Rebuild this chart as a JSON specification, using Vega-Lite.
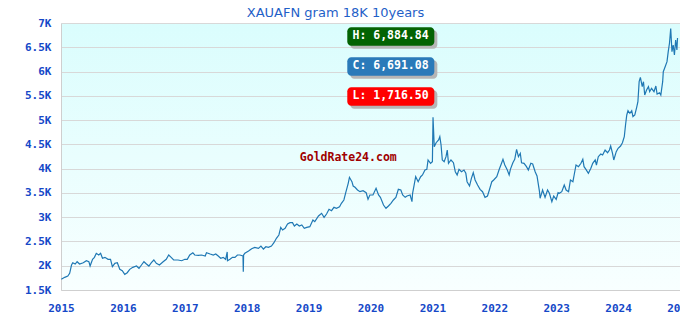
{
  "$schema": "https://vega.github.io/schema/vega-lite/v6.json",
  "width": 619,
  "height": 267,
  "autosize": {"type": "none"},
  "padding": {"left": 61, "top": 23, "right": 0, "bottom": 30},
  "title": {"text": "XAUAFN gram 18K 10years", "anchor": "middle", "frame": "group", "dx": -35, "offset": -3, "fontSize": 13, "font": "DejaVu Sans", "fontWeight": "normal", "color": "#1f5fc8"},
  "config": {
    "view": {"stroke": null, "fill": {"gradient": "linear", "x1": 0, "y1": 0, "x2": 0, "y2": 1, "stops": [{"offset": 0, "color": "#dafdfd"}, {"offset": 1, "color": "#f8ffff"}]}},
    "axisY": {"grid": true, "gridColor": "#d8d8d8", "ticks": false, "labelPadding": 10, "labelOverlap": false, "domainColor": "#cfcfcf", "labelFont": "DejaVu Sans Mono", "labelFontWeight": "bold", "labelFontSize": 11, "labelColor": "#1548c8", "title": null},
    "axisX": {"grid": false, "ticks": false, "labelPadding": 12, "labelOverlap": false, "labelFlush": false, "domainColor": "#cfcfcf", "labelFont": "DejaVu Sans Mono", "labelFontWeight": "bold", "labelFontSize": 11, "labelColor": "#1548c8", "title": null}
  },
  "datasets": {
    "s": [
      {"t": 2015.005, "v": 1720}, {"t": 2015.06, "v": 1761}, {"t": 2015.11, "v": 1788}, {"t": 2015.14, "v": 1844}, {"t": 2015.17, "v": 2015}, {"t": 2015.19, "v": 2062}, {"t": 2015.23, "v": 2035}, {"t": 2015.26, "v": 2083}, {"t": 2015.30, "v": 2035}, {"t": 2015.36, "v": 2062}, {"t": 2015.41, "v": 2103}, {"t": 2015.45, "v": 2083}, {"t": 2015.47, "v": 1994}, {"t": 2015.51, "v": 2132}, {"t": 2015.54, "v": 2173}, {"t": 2015.57, "v": 2256}, {"t": 2015.61, "v": 2221}, {"t": 2015.64, "v": 2256}, {"t": 2015.67, "v": 2153}, {"t": 2015.71, "v": 2173}, {"t": 2015.76, "v": 2132}, {"t": 2015.80, "v": 2132}, {"t": 2015.83, "v": 1980}, {"t": 2015.87, "v": 2050}, {"t": 2015.91, "v": 2062}, {"t": 2015.95, "v": 1926}, {"t": 2015.99, "v": 1897}, {"t": 2016.03, "v": 1823}, {"t": 2016.07, "v": 1856}, {"t": 2016.11, "v": 1926}, {"t": 2016.16, "v": 1967}, {"t": 2016.22, "v": 1994}, {"t": 2016.26, "v": 1947}, {"t": 2016.30, "v": 2015}, {"t": 2016.34, "v": 2083}, {"t": 2016.38, "v": 2035}, {"t": 2016.42, "v": 1994}, {"t": 2016.46, "v": 2062}, {"t": 2016.50, "v": 2118}, {"t": 2016.54, "v": 2050}, {"t": 2016.59, "v": 2015}, {"t": 2016.65, "v": 2083}, {"t": 2016.70, "v": 2132}, {"t": 2016.74, "v": 2221}, {"t": 2016.78, "v": 2173}, {"t": 2016.82, "v": 2118}, {"t": 2016.89, "v": 2118}, {"t": 2016.95, "v": 2103}, {"t": 2017.00, "v": 2132}, {"t": 2017.04, "v": 2132},
      {"t": 2017.08, "v": 2221}, {"t": 2017.13, "v": 2268}, {"t": 2017.16, "v": 2221}, {"t": 2017.22, "v": 2215}, {"t": 2017.27, "v": 2221}, {"t": 2017.33, "v": 2200}, {"t": 2017.35, "v": 2268}, {"t": 2017.41, "v": 2241}, {"t": 2017.46, "v": 2221}, {"t": 2017.50, "v": 2241}, {"t": 2017.54, "v": 2200}, {"t": 2017.58, "v": 2153}, {"t": 2017.62, "v": 2173}, {"t": 2017.66, "v": 2132}, {"t": 2017.685, "v": 2283}, {"t": 2017.69, "v": 2103}, {"t": 2017.73, "v": 2132}, {"t": 2017.77, "v": 2173}, {"t": 2017.81, "v": 2173}, {"t": 2017.85, "v": 2221}, {"t": 2017.89, "v": 2221}, {"t": 2017.94, "v": 2200}, {"t": 2017.945, "v": 1877}, {"t": 2017.95, "v": 2221}, {"t": 2017.97, "v": 2256}, {"t": 2018.03, "v": 2303}, {"t": 2018.08, "v": 2351}, {"t": 2018.13, "v": 2379}, {"t": 2018.19, "v": 2358}, {"t": 2018.23, "v": 2406}, {"t": 2018.27, "v": 2344}, {"t": 2018.31, "v": 2392}, {"t": 2018.35, "v": 2379}, {"t": 2018.40, "v": 2406}, {"t": 2018.44, "v": 2474}, {"t": 2018.48, "v": 2565}, {"t": 2018.52, "v": 2633}, {"t": 2018.55, "v": 2791}, {"t": 2018.58, "v": 2736}, {"t": 2018.62, "v": 2771}, {"t": 2018.66, "v": 2859}, {"t": 2018.70, "v": 2886}, {"t": 2018.74, "v": 2886}, {"t": 2018.77, "v": 2818}, {"t": 2018.81, "v": 2859}, {"t": 2018.85, "v": 2818}, {"t": 2018.89, "v": 2839}, {"t": 2018.93, "v": 2771}, {"t": 2018.97, "v": 2791}, {"t": 2019.02, "v": 2804}, {"t": 2019.07, "v": 2942}, {"t": 2019.10, "v": 2907},
      {"t": 2019.16, "v": 3024}, {"t": 2019.21, "v": 3080}, {"t": 2019.25, "v": 2997}, {"t": 2019.29, "v": 3065}, {"t": 2019.33, "v": 3162}, {"t": 2019.37, "v": 3133}, {"t": 2019.41, "v": 3203}, {"t": 2019.45, "v": 3183}, {"t": 2019.50, "v": 3216}, {"t": 2019.53, "v": 3286}, {"t": 2019.57, "v": 3354}, {"t": 2019.60, "v": 3504}, {"t": 2019.64, "v": 3698}, {"t": 2019.66, "v": 3821}, {"t": 2019.70, "v": 3731}, {"t": 2019.72, "v": 3642}, {"t": 2019.75, "v": 3615}, {"t": 2019.79, "v": 3560}, {"t": 2019.83, "v": 3525}, {"t": 2019.88, "v": 3545}, {"t": 2019.93, "v": 3504}, {"t": 2019.96, "v": 3368}, {"t": 2019.99, "v": 3457}, {"t": 2020.04, "v": 3457}, {"t": 2020.09, "v": 3595}, {"t": 2020.13, "v": 3457}, {"t": 2020.16, "v": 3409}, {"t": 2020.21, "v": 3251}, {"t": 2020.25, "v": 3183}, {"t": 2020.29, "v": 3230}, {"t": 2020.33, "v": 3286}, {"t": 2020.37, "v": 3354}, {"t": 2020.41, "v": 3409}, {"t": 2020.45, "v": 3574}, {"t": 2020.49, "v": 3560}, {"t": 2020.52, "v": 3457}, {"t": 2020.56, "v": 3409}, {"t": 2020.59, "v": 3436}, {"t": 2020.64, "v": 3457}, {"t": 2020.67, "v": 3319}, {"t": 2020.68, "v": 3492}, {"t": 2020.71, "v": 3698}, {"t": 2020.73, "v": 3834}, {"t": 2020.77, "v": 3731}, {"t": 2020.81, "v": 3834}, {"t": 2020.84, "v": 3869}, {"t": 2020.88, "v": 3972}, {"t": 2020.91, "v": 3986}, {"t": 2020.93, "v": 4178}, {"t": 2020.97, "v": 4110}, {"t": 2021.00, "v": 4143}, {"t": 2021.01, "v": 5057}, {"t": 2021.03, "v": 4452}, {"t": 2021.06, "v": 4534}, {"t": 2021.10, "v": 4590}, {"t": 2021.12, "v": 4658}, {"t": 2021.14, "v": 4487}, {"t": 2021.16, "v": 4178}, {"t": 2021.19, "v": 4143}, {"t": 2021.22, "v": 4246}, {"t": 2021.24, "v": 4384}, {"t": 2021.26, "v": 4110}, {"t": 2021.30, "v": 4178}, {"t": 2021.34, "v": 4122}, {"t": 2021.37, "v": 3937}, {"t": 2021.40, "v": 3869}, {"t": 2021.43, "v": 3986}, {"t": 2021.47, "v": 3937}, {"t": 2021.51, "v": 3972}, {"t": 2021.54, "v": 3904}, {"t": 2021.56, "v": 3731}, {"t": 2021.60, "v": 3642}, {"t": 2021.63, "v": 3801}, {"t": 2021.66, "v": 3916}, {"t": 2021.69, "v": 3766}, {"t": 2021.73, "v": 3663}, {"t": 2021.77, "v": 3574}, {"t": 2021.81, "v": 3525}, {"t": 2021.85, "v": 3409}, {"t": 2021.89, "v": 3436}, {"t": 2021.92, "v": 3560}, {"t": 2021.96, "v": 3731}, {"t": 2021.99, "v": 3766},
      {"t": 2022.04, "v": 3834}, {"t": 2022.08, "v": 3986}, {"t": 2022.12, "v": 4122}, {"t": 2022.14, "v": 4192}, {"t": 2022.17, "v": 4075}, {"t": 2022.21, "v": 3972}, {"t": 2022.24, "v": 3869}, {"t": 2022.26, "v": 3986}, {"t": 2022.30, "v": 4122}, {"t": 2022.33, "v": 4192}, {"t": 2022.36, "v": 4398}, {"t": 2022.39, "v": 4246}, {"t": 2022.42, "v": 4316}, {"t": 2022.44, "v": 4122}, {"t": 2022.48, "v": 4110}, {"t": 2022.52, "v": 4040}, {"t": 2022.55, "v": 3972}, {"t": 2022.59, "v": 4110}, {"t": 2022.62, "v": 4095}, {"t": 2022.66, "v": 3937}, {"t": 2022.69, "v": 3848}, {"t": 2022.73, "v": 3525}, {"t": 2022.74, "v": 3389}, {"t": 2022.78, "v": 3560}, {"t": 2022.82, "v": 3409}, {"t": 2022.86, "v": 3560}, {"t": 2022.89, "v": 3492}, {"t": 2022.93, "v": 3319}, {"t": 2022.96, "v": 3436}, {"t": 2023.00, "v": 3368}, {"t": 2023.03, "v": 3504}, {"t": 2023.05, "v": 3492}, {"t": 2023.09, "v": 3525}, {"t": 2023.13, "v": 3663}, {"t": 2023.16, "v": 3560}, {"t": 2023.20, "v": 3525}, {"t": 2023.23, "v": 3766}, {"t": 2023.27, "v": 3731}, {"t": 2023.29, "v": 3869}, {"t": 2023.32, "v": 4075}, {"t": 2023.36, "v": 4040}, {"t": 2023.40, "v": 4110}, {"t": 2023.43, "v": 4192}, {"t": 2023.45, "v": 4040}, {"t": 2023.48, "v": 3986}, {"t": 2023.52, "v": 3904}, {"t": 2023.56, "v": 4007}, {"t": 2023.59, "v": 4110}, {"t": 2023.63, "v": 4178}, {"t": 2023.65, "v": 4075}, {"t": 2023.68, "v": 4246}, {"t": 2023.72, "v": 4301}, {"t": 2023.75, "v": 4281}, {"t": 2023.79, "v": 4384}, {"t": 2023.83, "v": 4328}, {"t": 2023.86, "v": 4384}, {"t": 2023.88, "v": 4466}, {"t": 2023.91, "v": 4316}, {"t": 2023.93, "v": 4178}, {"t": 2023.97, "v": 4349}, {"t": 2024.00, "v": 4419}, {"t": 2024.04, "v": 4466}, {"t": 2024.07, "v": 4534}, {"t": 2024.10, "v": 4658}, {"t": 2024.12, "v": 4899}, {"t": 2024.14, "v": 5105}, {"t": 2024.16, "v": 5193}, {"t": 2024.19, "v": 5140}, {"t": 2024.22, "v": 5193}, {"t": 2024.24, "v": 5070}, {"t": 2024.27, "v": 5105}, {"t": 2024.30, "v": 5263}, {"t": 2024.32, "v": 5379}, {"t": 2024.34, "v": 5791}, {"t": 2024.36, "v": 5881}, {"t": 2024.39, "v": 5688}, {"t": 2024.41, "v": 5791}, {"t": 2024.43, "v": 5517}, {"t": 2024.46, "v": 5620}, {"t": 2024.49, "v": 5688}, {"t": 2024.51, "v": 5585}, {"t": 2024.54, "v": 5655}, {"t": 2024.58, "v": 5585}, {"t": 2024.61, "v": 5702}, {"t": 2024.63, "v": 5537}, {"t": 2024.67, "v": 5564}, {"t": 2024.69, "v": 5517}, {"t": 2024.72, "v": 5791}, {"t": 2024.73, "v": 5997}, {"t": 2024.76, "v": 6100}, {"t": 2024.79, "v": 6203}, {"t": 2024.81, "v": 6409}, {"t": 2024.83, "v": 6582}, {"t": 2024.85, "v": 6885}, {"t": 2024.87, "v": 6409}, {"t": 2024.89, "v": 6547}, {"t": 2024.91, "v": 6341}, {"t": 2024.93, "v": 6650}, {"t": 2024.95, "v": 6444}, {"t": 2024.96, "v": 6691}
    ]
  },
  "layer": [
    {
      "data": {"name": "s"},
      "mark": {"type": "line", "color": "#1f78b4", "strokeWidth": 1.2, "clip": true},
      "encoding": {
        "x": {"field": "t", "type": "quantitative", "scale": {"domain": [2015, 2025], "nice": false, "zero": false}, "axis": {"values": [2015, 2016, 2017, 2018, 2019, 2020, 2021, 2022, 2023, 2024, 2025], "tickCount": 20, "format": "d", "title": null}},
        "y": {"field": "v", "type": "quantitative", "scale": {"domain": [1500, 7000], "nice": false, "zero": false}, "axis": {"values": [1500, 2000, 2500, 3000, 3500, 4000, 4500, 5000, 5500, 6000, 6500, 7000], "tickCount": 20, "labelExpr": "datum.value / 1000 + 'K'", "title": null}}
      }
    },
    {
      "data": {"values": [{"w": "GoldRate24.com"}]},
      "mark": {"type": "text", "font": "DejaVu Sans Mono", "fontWeight": "bold", "fontSize": 11.5, "color": "#a00000", "align": "center", "baseline": "middle"},
      "encoding": {"x": {"datum": 2019.641, "type": "quantitative"}, "y": {"datum": 4219, "type": "quantitative"}, "text": {"field": "w"}}
    },
    {
      "data": {"values": [{"k": "H"}]},
      "mark": {"type": "rect", "color": "#b5b5b5", "cornerRadius": 4, "xOffset": 3, "x2Offset": 3, "yOffset": 3, "y2Offset": 3},
      "encoding": {"x": {"datum": 2019.625, "type": "quantitative"}, "x2": {"datum": 2021.031}, "y": {"datum": 6911, "type": "quantitative"}, "y2": {"datum": 6532}}
    },
    {
      "data": {"values": [{"k": "H"}]},
      "mark": {"type": "rect", "color": "#036303", "cornerRadius": 4},
      "encoding": {"x": {"datum": 2019.625, "type": "quantitative"}, "x2": {"datum": 2021.031}, "y": {"datum": 6911, "type": "quantitative"}, "y2": {"datum": 6532}}
    },
    {
      "data": {"values": [{"k": "H", "label": "H: 6,884.84"}]},
      "mark": {"type": "text", "font": "DejaVu Sans Mono", "fontWeight": "bold", "fontSize": 11.5, "color": "#ffffff", "align": "center", "baseline": "middle"},
      "encoding": {"x": {"datum": 2020.324, "type": "quantitative"}, "y": {"datum": 6722, "type": "quantitative"}, "text": {"field": "label"}}
    },
    {
      "data": {"values": [{"k": "C"}]},
      "mark": {"type": "rect", "color": "#b5b5b5", "cornerRadius": 4, "xOffset": 3, "x2Offset": 3, "yOffset": 3, "y2Offset": 3},
      "encoding": {"x": {"datum": 2019.625, "type": "quantitative"}, "x2": {"datum": 2021.031}, "y": {"datum": 6293, "type": "quantitative"}, "y2": {"datum": 5914}}
    },
    {
      "data": {"values": [{"k": "C"}]},
      "mark": {"type": "rect", "color": "#2a7ab9", "cornerRadius": 4},
      "encoding": {"x": {"datum": 2019.625, "type": "quantitative"}, "x2": {"datum": 2021.031}, "y": {"datum": 6293, "type": "quantitative"}, "y2": {"datum": 5914}}
    },
    {
      "data": {"values": [{"k": "C", "label": "C: 6,691.08"}]},
      "mark": {"type": "text", "font": "DejaVu Sans Mono", "fontWeight": "bold", "fontSize": 11.5, "color": "#ffffff", "align": "center", "baseline": "middle"},
      "encoding": {"x": {"datum": 2020.324, "type": "quantitative"}, "y": {"datum": 6104, "type": "quantitative"}, "text": {"field": "label"}}
    },
    {
      "data": {"values": [{"k": "L"}]},
      "mark": {"type": "rect", "color": "#b5b5b5", "cornerRadius": 4, "xOffset": 3, "x2Offset": 3, "yOffset": 3, "y2Offset": 3},
      "encoding": {"x": {"datum": 2019.625, "type": "quantitative"}, "x2": {"datum": 2021.031}, "y": {"datum": 5675, "type": "quantitative"}, "y2": {"datum": 5296}}
    },
    {
      "data": {"values": [{"k": "L"}]},
      "mark": {"type": "rect", "color": "#ff0000", "cornerRadius": 4},
      "encoding": {"x": {"datum": 2019.625, "type": "quantitative"}, "x2": {"datum": 2021.031}, "y": {"datum": 5675, "type": "quantitative"}, "y2": {"datum": 5296}}
    },
    {
      "data": {"values": [{"k": "L", "label": "L: 1,716.50"}]},
      "mark": {"type": "text", "font": "DejaVu Sans Mono", "fontWeight": "bold", "fontSize": 11.5, "color": "#ffffff", "align": "center", "baseline": "middle"},
      "encoding": {"x": {"datum": 2020.324, "type": "quantitative"}, "y": {"datum": 5486, "type": "quantitative"}, "text": {"field": "label"}}
    }
  ]
}
